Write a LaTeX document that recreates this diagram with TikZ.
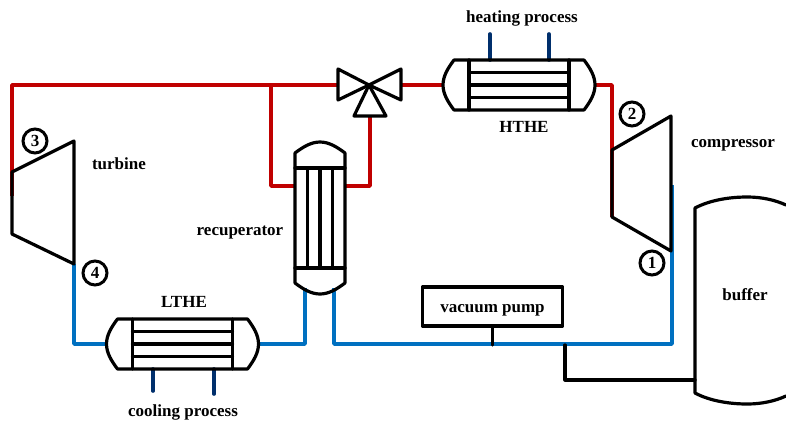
\documentclass[tikz,border=0pt]{standalone}
\usepackage{fontspec}
\setmainfont{Liberation Serif}
\usepackage{tikz}
\definecolor{hotred}{HTML}{C00000}
\definecolor{coldblue}{HTML}{0070C0}
\definecolor{navyline}{HTML}{002F6C}
\tikzset{
  part/.style={line width=3.2pt,line join=round,line cap=round},
  hotpipe/.style={hotred,line width=3.6pt,line join=round},
  coldpipe/.style={coldblue,line width=3.6pt,line join=round},
  stub/.style={navyline,line width=3.6pt,line cap=round},
  tag/.style={font=\fontsize{17}{20}\selectfont\bfseries,inner sep=0pt},
  statept/.style={circle,draw,line width=3pt,minimum size=24pt,inner sep=0pt,font=\fontsize{17}{20}\selectfont\bfseries},
  exchanger/.pic={
    \draw[part] (-65,-25) -- (65,-25) .. controls (71,-17) and (76,-9) .. (76,0)
      .. controls (76,9) and (71,17) .. (65,25) -- (-65,25)
      .. controls (-71,17) and (-76,9) .. (-76,0) .. controls (-76,-9) and (-71,-17) .. (-65,-25) -- cycle;
    \draw[part] (-50,-25) -- (-50,25);
    \draw[part] (50,-25) -- (50,25);
    \foreach \i in {-12.5,0,12.5}
      \draw[part] (-50,\i) -- (50,\i);
  }
}
\begin{document}
\begin{tikzpicture}[x=1pt,y=-1pt]
  \useasboundingbox (0,0) rectangle (786,421);

  % pipe ends
  \coordinate (hotcorner) at (12,85);
  \coordinate (turbinein) at (12,196);
  \coordinate (valvewest) at (338,85);
  \coordinate (valveeast) at (401,85);
  \coordinate (valvesouth) at (370,116);
  \coordinate (hthewest) at (443,85);
  \coordinate (htheeast) at (595,85);
  \coordinate (compout) at (612,217);
  \coordinate (branch) at (271,85);
  \coordinate (recuphotw) at (295,186);
  \coordinate (recuphote) at (345,186);
  \coordinate (turbineout) at (74,264);
  \coordinate (ltheeast) at (258,344);
  \coordinate (lthewest) at (107,344);
  \coordinate (recupcoldw) at (305,288);
  \coordinate (recupcolde) at (334,288);
  \coordinate (compin) at (672,185);
  \coordinate (pumptee) at (492,345);
  \coordinate (buffertee) at (565,345);
  \coordinate (bufferin) at (695,380);

  % hot side
  \draw[hotpipe] (valvewest) -- (hotcorner) -- (turbinein);
  \draw[hotpipe] (valveeast) -- (hthewest);
  \draw[hotpipe] (htheeast) -| (compout);
  \draw[hotpipe] (branch) |- (recuphotw);
  \draw[hotpipe] (valvesouth) |- (recuphote);

  % cold side
  \draw[coldpipe] (turbineout) |- (lthewest);
  \draw[coldpipe] (ltheeast) -| (recupcoldw);
  \draw[coldpipe] (recupcolde) |- (compin |- ltheeast) -- (compin);

  % secondary loops
  \coordinate (heatin) at (490,34);
  \coordinate (heatout) at (549,34);
  \coordinate (coolin) at (153,391);
  \coordinate (coolout) at (214,394);
  \draw[stub] (heatin) -- ++(0,26);
  \draw[stub] (heatout) -- ++(0,26);
  \draw[stub] (coolin) -- ++(0,-22);
  \draw[stub] (coolout) -- ++(0,-25);

  % exchangers
  \pic at (519,85) {exchanger};
  \pic at (182.5,344) {exchanger};
  \pic[rotate=90] at (320,218) {exchanger};

  % valve
  \draw[part] (369,85) -- (338,69) -- (338,100) -- cycle;
  \draw[part] (369,85) -- (401,69) -- (401,100) -- cycle;
  \draw[part] (369,85) -- (354,116) -- (386,116) -- cycle;

  % turbine and compressor
  \draw[part] (12,172) -- (74,141) -- (74,264) -- (12,234) -- cycle;
  \draw[part] (612,150) -- (671,116) -- (671,251) -- (612,217) -- cycle;

  % buffer
  \draw[part] (786,205) .. controls (775,200) and (762,197) .. (747,197)
    .. controls (730,197) and (710,200) .. (695,208) -- (695,393)
    .. controls (710,401) and (730,404) .. (747,404) .. controls (762,404) and (775,401) .. (786,396);
  \draw[part] (buffertee) |- (bufferin);

  % pump
  \node[part,draw,minimum width=140pt,minimum height=39pt,tag,text height=11pt,text depth=0pt] (vacpump) at (492.5,306.5) {vacuum pump};
  \draw[part] (vacpump.south) -- (vacpump.south |- pumptee);

  % labels
  \node[tag] (heating) at (522,18) {heating process};
  \node[tag] (hthe) at (524,127) {HTHE};
  \node[tag] (lthe) at (184,302) {LTHE};
  \node[tag] (cooling) at (183,412) {cooling process};
  \node[tag] (turbine) at (119,164) {turbine};
  \node[tag] (compressor) at (733,145) {compressor};
  \node[tag] (recuperator) at (240,233) {recuperator};
  \node[tag] (buffer) at (745,295) {buffer};

  % state points
  \node[statept] (one) at (652,263) {1};
  \node[statept] (two) at (632,114) {2};
  \node[statept] (three) at (35,141) {3};
  \node[statept] (four) at (95,273) {4};
\end{tikzpicture}
\end{document}
